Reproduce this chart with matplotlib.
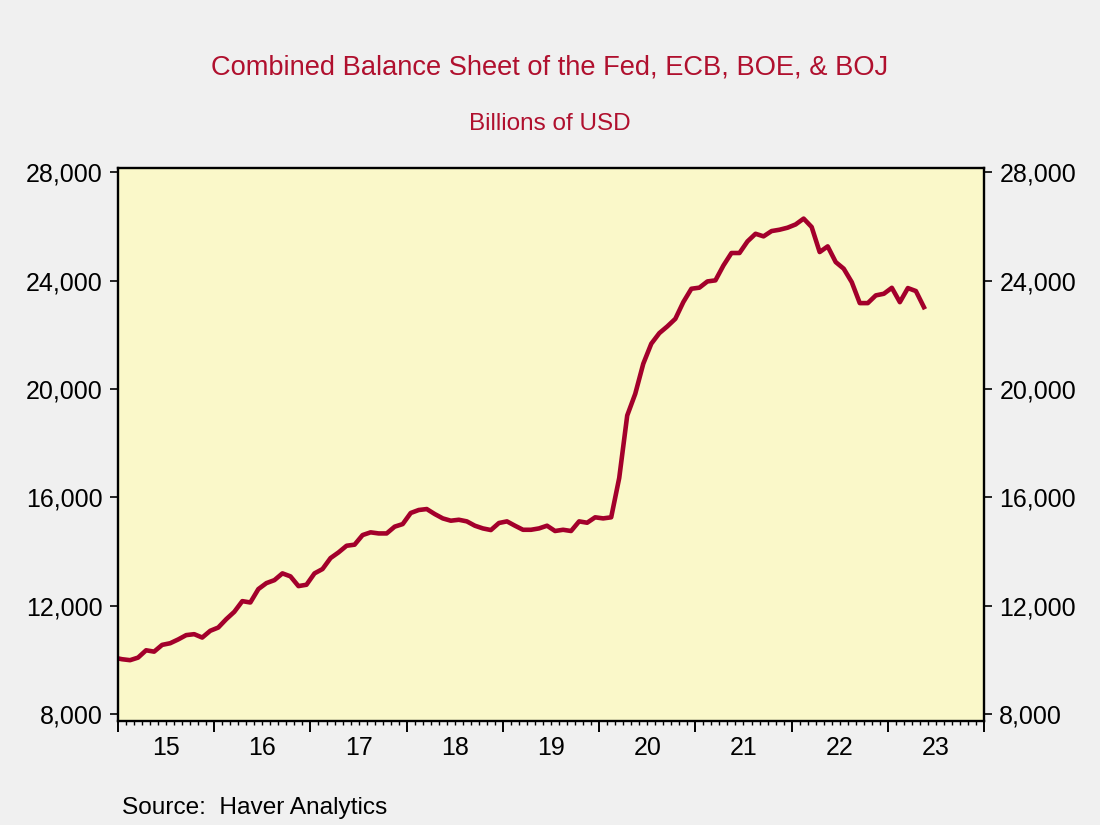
import numpy as np
import matplotlib
matplotlib.use("Agg")
import matplotlib.pyplot as plt
from matplotlib.ticker import FixedLocator, FuncFormatter

plt.rcParams["font.family"] = ["Liberation Sans", "DejaVu Sans"]

# monthly data, Dec 2014 .. May 2023 (billions of USD)
start_year, start_month = 2014, 12
balance = [
    10080,
    10020, 9985, 10080, 10350, 10300, 10550, 10610, 10750, 10910, 10945, 10820, 11070,   # 2015
    11190, 11500, 11770, 12165, 12115, 12610, 12830, 12940, 13190, 13080, 12720, 12770,  # 2016
    13190, 13350, 13755, 13965, 14210, 14250, 14605, 14705, 14665, 14665, 14915, 15010,  # 2017
    15420, 15530, 15565, 15380, 15220, 15135, 15170, 15110, 14950, 14850, 14790, 15050,  # 2018
    15110, 14950, 14800, 14800, 14850, 14950, 14755, 14800, 14755, 15110, 15060, 15260,  # 2019
    15220, 15260, 16710, 19020, 19820, 20930, 21670, 22060, 22310, 22590, 23210, 23700,  # 2020
    23740, 23970, 24010, 24560, 25020, 25020, 25450, 25730, 25635, 25830, 25880, 25955,  # 2021
    26075, 26290, 25980, 25055, 25265, 24685, 24440, 23945, 23170, 23170, 23455, 23515,  # 2022
    23735, 23205, 23725, 23615, 23020,                                                   # 2023
]
year_labels = ["15", "16", "17", "18", "19", "20", "21", "22", "23"]
y_ticks = [8000, 12000, 16000, 20000, 24000, 28000]

title = "Combined Balance Sheet of the Fed, ECB, BOE, & BOJ"
subtitle = "Billions of USD"
source = "Source:  Haver Analytics"

# mid-month positions in decimal years
n = len(balance)
month_idx = np.arange(n) + (start_month - 1)
x = start_year + (month_idx + 0.5) / 12.0

fig = plt.figure(figsize=(11, 8.25), dpi=100, facecolor="#F0F0F0")
ax = fig.add_axes([0.1073, 0.1261, 0.7873, 0.6703])
ax.set_facecolor("#FAF8C9")

ax.plot(x, balance, color="#A3002B", lw=3.3, solid_joinstyle="round")

ax.set_xlim(2015, 2024)
ax.set_ylim(7740, 28160)

for s in ax.spines.values():
    s.set_linewidth(1.7)
    s.set_color("black")

fmt = FuncFormatter(lambda v, p: f"{int(v):,}")
ax.yaxis.set_major_locator(FixedLocator(y_ticks))
ax.yaxis.set_major_formatter(fmt)
ax.tick_params(axis="y", which="major", length=6, width=1.2, pad=5,
               labelsize=18, left=True, right=True, labelleft=True, labelright=True)

years = np.arange(2015, 2025)
ax.xaxis.set_major_locator(FixedLocator(years))
ax.xaxis.set_minor_locator(FixedLocator(np.arange(2015, 2024, 1 / 12.0)))
ax.xaxis.set_major_formatter(FuncFormatter(lambda v, p: ""))
ax.tick_params(axis="x", which="major", length=8, width=1.4, direction="out")
ax.tick_params(axis="x", which="minor", length=3.2, width=1.0, direction="out")

# year labels centred between the year ticks
sec = ax.secondary_xaxis("bottom")
sec.set_xticks(years[:-1] + 0.5, labels=year_labels)
sec.tick_params(length=0, pad=11, labelsize=18)
sec.spines["bottom"].set_visible(False)

fig.text(0.5, 0.9176, title, ha="center", va="center", fontsize=19.6, color="#B0102E")
fig.text(0.5, 0.8497, subtitle, ha="center", va="center", fontsize=17.5, color="#B0102E")
fig.text(0.111, 0.0206, source, ha="left", va="center", fontsize=17.6, color="black")

fig.savefig("out.png", dpi=100, facecolor=fig.get_facecolor())
